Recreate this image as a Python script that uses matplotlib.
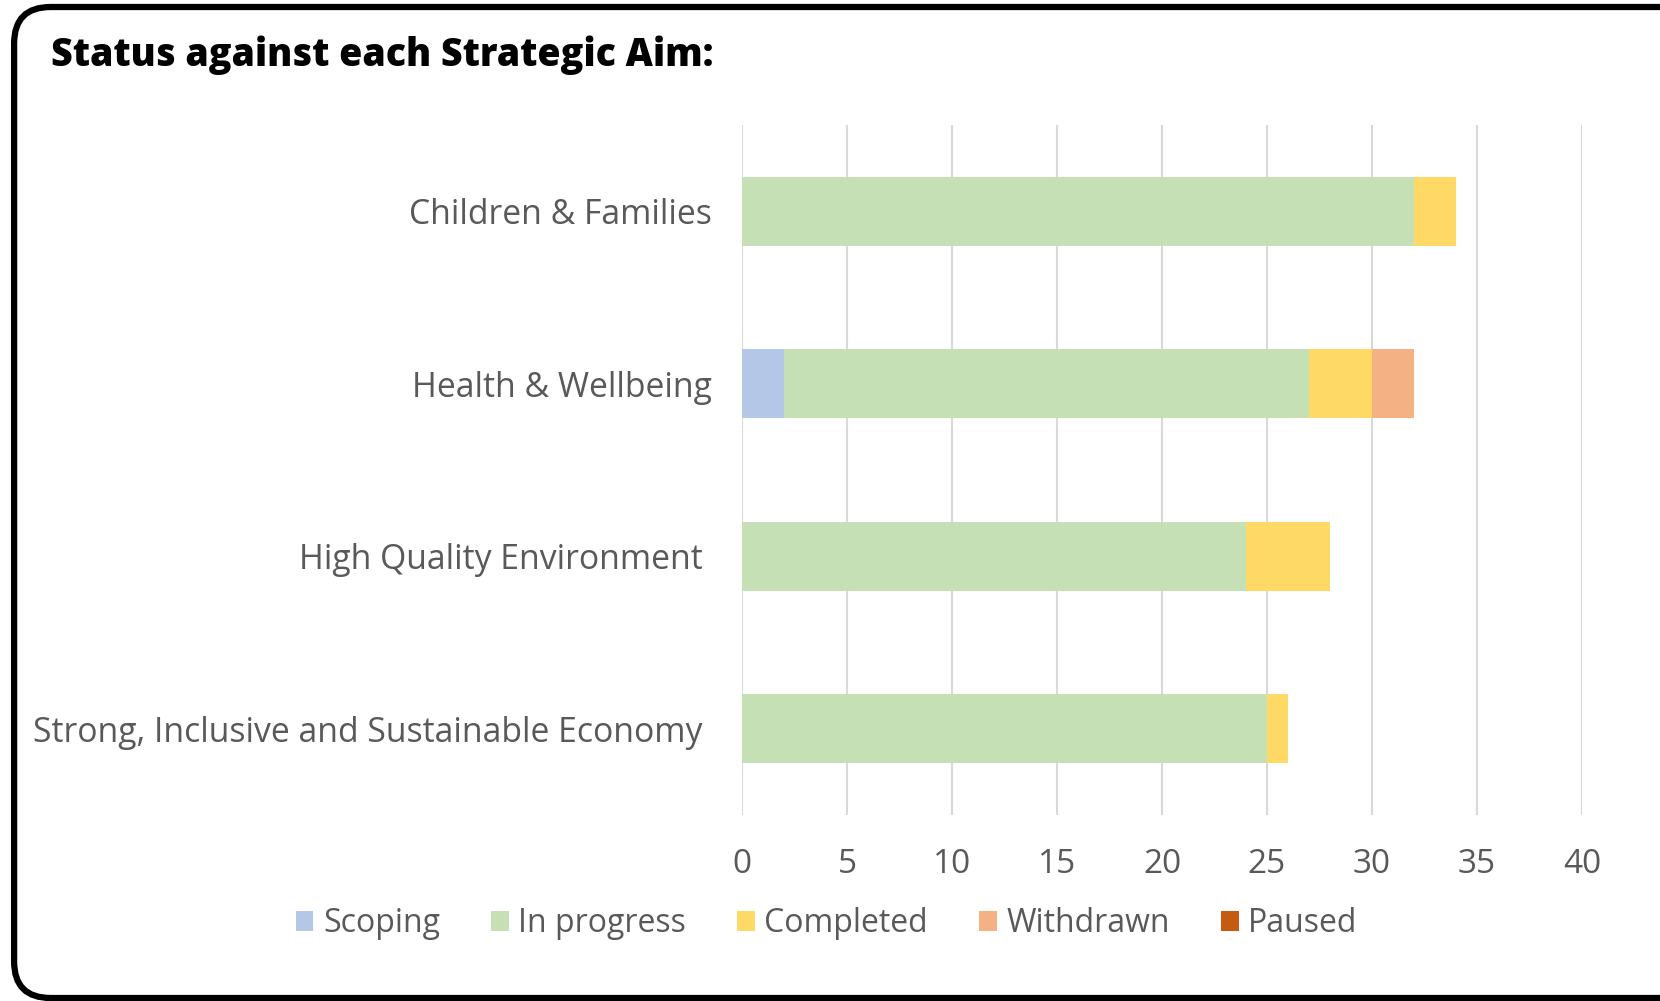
import matplotlib.pyplot as plt
from matplotlib.patches import FancyBboxPatch
import numpy as np

# Data
aims = ["Children & Families", "Health & Wellbeing", "High Quality Environment ",
        "Strong, Inclusive and Sustainable Economy "]
scoping = [0, 2, 0, 0]
in_progress = [32, 25, 24, 25]
completed = [2, 3, 4, 1]
withdrawn = [0, 2, 0, 0]
paused = [0, 0, 0, 0]

series = [("Scoping", scoping, "#B4C7E7"),
          ("In progress", in_progress, "#C5E0B4"),
          ("Completed", completed, "#FFD966"),
          ("Withdrawn", withdrawn, "#F4B183"),
          ("Paused", paused, "#C55A11")]

plt.rcParams['font.family'] = ['Open Sans', 'DejaVu Sans']
grey = "#595959"

fig = plt.figure(figsize=(16.6, 10.01), dpi=100)
ax = fig.add_axes([0.447, 0.186, 0.506, 0.689])

y = np.arange(len(aims))
left = np.zeros(len(aims))
for name, vals, col in series:
    vals = np.array(vals, dtype=float)
    ax.barh(y, vals, left=left, height=0.4, color=col, label=name, zorder=3)
    left += vals

ax.set_xlim(0, 40)
ax.set_ylim(3.5, -0.5)
ax.set_xticks(range(0, 41, 5))
ax.set_yticks(y)
ax.set_yticklabels(aims, fontsize=24.3)
ax.tick_params(axis='x', length=0, labelsize=24, colors=grey, pad=24)
ax.tick_params(axis='y', length=0, colors=grey, pad=22)
ax.grid(axis='x', color='#D9D9D9', linewidth=1.5, zorder=0)
for s in ax.spines.values():
    s.set_visible(False)

leg = fig.legend(loc='center', bbox_to_anchor=(0.498, 0.077), ncol=5, frameon=False,
                 fontsize=23, handlelength=0.55, handleheight=0.55, handletextpad=0.3,
                 columnspacing=1.6, labelcolor=grey)

fig.text(0.031, 0.945, "Status against each Strategic Aim:", fontsize=27,
         fontweight='heavy', color='black', va='center', ha='left')

# rounded frame around the chart
frame = FancyBboxPatch((0.0085, 0.003), 1.2, 0.99, transform=fig.transFigure,
                       boxstyle="round,pad=0,rounding_size=0.022",
                       facecolor='none', edgecolor='black', linewidth=4.5,
                       mutation_aspect=1.66)
fig.patches.append(frame)

fig.savefig("out.png", dpi=100)
